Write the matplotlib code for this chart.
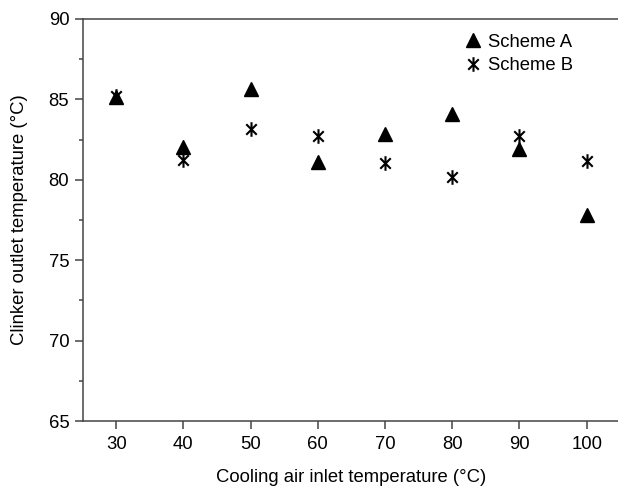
import matplotlib
matplotlib.use("Agg")
import matplotlib.pyplot as plt
from matplotlib.path import Path
from matplotlib.ticker import MultipleLocator

plt.rcParams['font.family'] = ['Liberation Sans', 'DejaVu Sans']

inlet_temp = [30, 40, 50, 60, 70, 80, 90, 100]
scheme_a = [85.17, 82.06, 85.67, 81.13, 82.83, 84.07, 81.90, 77.81]
scheme_b = [85.20, 81.23, 83.14, 82.72, 81.07, 80.19, 82.74, 81.19]

d = 0.72
star = Path([(0, -1), (0, 1), (-d, -d), (d, d), (-d, d), (d, -d)],
            [Path.MOVETO, Path.LINETO, Path.MOVETO, Path.LINETO, Path.MOVETO, Path.LINETO])

fig = plt.figure(figsize=(6.18, 4.88), dpi=100)
ax = fig.add_axes([82.5/618, 67/488, (620.3-82.5)/618, 402/488])

ax.plot(inlet_temp, scheme_a, linestyle='none', marker='^', markersize=9.5,
        color='black', label='Scheme A')
ax.plot(inlet_temp, scheme_b, linestyle='none', marker=star, markersize=10.5,
        markerfacecolor='none', markeredgecolor='black', markeredgewidth=1.5,
        color='black', label='Scheme B')

ax.set_xlim(25, 105)
ax.set_ylim(65, 90)
ax.set_xticks(inlet_temp)
ax.yaxis.set_major_locator(MultipleLocator(5))
ax.yaxis.set_minor_locator(MultipleLocator(2.5))

spine_color = '#444444'
for s in ['left', 'bottom', 'top']:
    ax.spines[s].set_color(spine_color)
    ax.spines[s].set_linewidth(1.1)
ax.spines['right'].set_visible(False)

ax.tick_params(axis='both', which='major', direction='out', length=5.5, width=1.1,
               color=spine_color, labelsize=13.3)
ax.tick_params(axis='y', which='major', pad=4)
ax.tick_params(axis='x', which='major', pad=5)
ax.tick_params(axis='y', which='minor', direction='out', length=3, width=1.1,
               color=spine_color)
ax.tick_params(axis='x', which='minor', bottom=False)

ax.set_xlabel('Cooling air inlet temperature (°C)', fontsize=13.3, labelpad=12)
ax.set_ylabel('Clinker outlet temperature (°C)', fontsize=13.3, labelpad=15)

ax.legend(loc='upper left', bbox_to_anchor=((451-82.5)/537.8, 0.995), frameon=False,
          fontsize=13.3, handlelength=1.0, handletextpad=0.3, labelspacing=0.35,
          borderpad=0.2)

fig.savefig('out.png', dpi=100)
